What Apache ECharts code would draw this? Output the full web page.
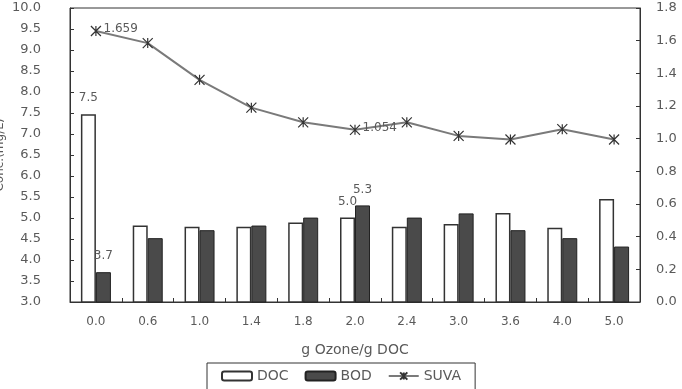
<!DOCTYPE html>
<html>
<head>
<meta charset="utf-8">
<script src="https://cdn.jsdelivr.net/npm/echarts@6/dist/echarts.min.js"></script>
<style>html,body{margin:0;padding:0;background:#fff;}#c{width:682px;height:389px;}</style>
</head>
<body>
<div id="c"></div>
<script>
const categories = ['0.0','0.6','1.0','1.4','1.8','2.0','2.4','3.0','3.6','4.0','5.0'];
const docValues = [7.47, 4.82, 4.79, 4.79, 4.89, 5.01, 4.79, 4.86, 5.12, 4.77, 5.45];
const bodValues = [3.71, 4.52, 4.71, 4.82, 5.01, 5.30, 5.01, 5.11, 4.71, 4.52, 4.32];
const suvaValues = [1.659, 1.585, 1.36, 1.19, 1.10, 1.054, 1.10, 1.017, 0.995, 1.058, 0.995];
const docLabels = {0: '7.5', 5: '5.0'};
const bodLabels = {0: '3.7', 5: '5.3'};
const suvaLabels = {0: '1.659', 5: '1.054'};
const leftTicks = {min: 3, max: 10, interval: 0.5};
const rightTicks = {min: 0, max: 1.8, interval: 0.2};

const FONT = 'DejaVu Sans';
const TXT = '#5a5a5a';

function withLabels(values, labels, extra) {
  return values.map((v, i) => labels[i] !== undefined
    ? {value: v, label: Object.assign({show: true, formatter: labels[i]}, extra)}
    : v);
}

const chart = echarts.init(document.getElementById('c'), null, {renderer: 'canvas'});
chart.setOption({
  animation: false,
  backgroundColor: '#fff',
  textStyle: {fontFamily: FONT},
  grid: {left: 70, right: 42, top: 8, bottom: 87, containLabel: false, outerBoundsMode: 'none',
         show: true, borderColor: '#333', borderWidth: 1},
  legend: {
    left: 207, top: 363,
    padding: [6, 14, 10, 14],
    borderColor: '#333', borderWidth: 1,
    itemWidth: 30, itemHeight: 9, itemGap: 16,
    textStyle: {fontFamily: FONT, fontSize: 14, color: TXT},
    data: ['DOC', 'BOD', 'SUVA']
  },
  xAxis: {
    type: 'category',
    data: categories,
    axisLine: {lineStyle: {color: '#333', width: 1}},
    axisTick: {show: true, inside: true, length: 4, interval: 0, lineStyle: {color: '#333'}},
    axisLabel: {fontFamily: FONT, fontSize: 12, color: TXT, margin: 14, interval: 0},
    name: 'g Ozone/g DOC',
    nameLocation: 'middle',
    nameGap: 41,
    nameMoveOverlap: false,
    nameTextStyle: {fontFamily: FONT, fontSize: 14, color: TXT}
  },
  yAxis: [
    {
      type: 'value', min: leftTicks.min, max: leftTicks.max, interval: leftTicks.interval,
      splitLine: {show: false},
      axisLine: {show: true, lineStyle: {color: '#333'}},
      axisTick: {show: true, inside: true, length: 4, lineStyle: {color: '#333'}},
      axisLabel: {fontFamily: FONT, fontSize: 13, color: TXT, margin: 29, formatter: v => v.toFixed(1)},
      name: 'Conc.(mg/L)', nameLocation: 'middle', nameGap: 64, nameRotate: 90,
      nameMoveOverlap: false,
      nameTextStyle: {fontFamily: FONT, fontSize: 12, color: TXT}
    },
    {
      type: 'value', min: rightTicks.min, max: rightTicks.max, interval: rightTicks.interval,
      splitLine: {show: false},
      axisLine: {show: true, lineStyle: {color: '#333'}},
      axisTick: {show: true, inside: true, length: 4, lineStyle: {color: '#333'}},
      axisLabel: {fontFamily: FONT, fontSize: 13, color: TXT, margin: 16, formatter: v => v.toFixed(1)}
    }
  ],
  series: [
    {
      name: 'DOC', type: 'bar', barWidth: 15, barGap: '0%',
      itemStyle: {color: '#fff', borderColor: '#333', borderWidth: 1.5},
      data: withLabels(docValues, docLabels, {position: 'top', distance: 10, fontFamily: FONT, fontSize: 12, color: TXT})
    },
    {
      name: 'BOD', type: 'bar', barWidth: 15, barGap: '0%',
      itemStyle: {color: '#4a4a4a', borderColor: '#222', borderWidth: 1},
      data: withLabels(bodValues, bodLabels, {position: 'top', distance: 10, fontFamily: FONT, fontSize: 12, color: TXT})
    },
    {
      name: 'SUVA', type: 'line', yAxisIndex: 1,
      symbol: 'path://M5,0L5,10M0,0L10,10M0,10L10,0',
      symbolSize: 10,
      showAllSymbol: true,
      lineStyle: {color: '#7a7a7a', width: 2},
      itemStyle: {color: 'transparent', borderColor: '#333', borderWidth: 1.2},
      data: withLabels(suvaValues, suvaLabels, {position: 'right', distance: 2, offset: [0, -2], fontFamily: FONT, fontSize: 12, color: TXT}),
      z: 5
    }
  ]
});
</script>
</body>
</html>
